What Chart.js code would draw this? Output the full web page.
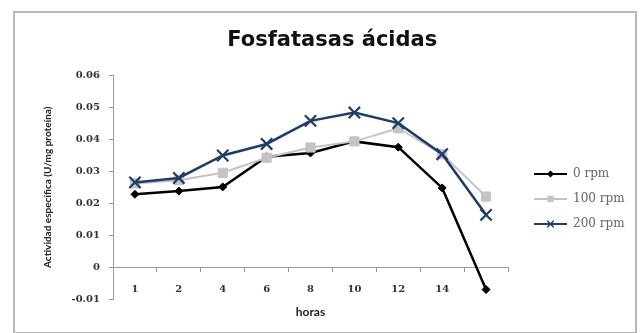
<!DOCTYPE html>
<html>
<head>
<meta charset="utf-8">
<script src="https://cdn.jsdelivr.net/npm/chart.js@4"></script>
<style>
  html, body { margin: 0; padding: 0; background: #fff; }
  #wrap { width: 644px; height: 333px; position: relative; }
</style>
</head>
<body>
<div id="wrap"><canvas id="c" width="644" height="333"></canvas></div>
<script>
// Hours of sampling (last sample is left unlabeled on the axis)
const horas = ['1', '2', '4', '6', '8', '10', '12', '14', ''];

// Specific activity (U/mg protein) per agitation speed
const rpm0   = [0.0228, 0.0238, 0.0251, 0.0345, 0.0357, 0.0393, 0.0375, 0.0248, -0.0069];
const rpm100 = [0.0262, 0.0272, 0.0295, 0.0342, 0.0374, 0.0393, 0.0434, 0.0353, 0.0221];
const rpm200 = [0.0265, 0.0279, 0.0349, 0.0385, 0.0457, 0.0483, 0.0450, 0.0353, 0.0164];

const seriesNames = ['0 rpm', '100 rpm', '200 rpm'];

// Y axis range and step
const yMin = -0.01, yMax = 0.06, yStep = 0.01;

const styles = [
  { color: '#000000', point: 'rectRot', radius: 4, width: 2.5, legendRadius: 2.5 },
  { color: '#c4c4c4', point: 'rect', radius: 6.5, width: 2, legendRadius: 3.5 },
  { color: '#1f3d66', point: 'crossRot', radius: 8, width: 2.5, legendRadius: 4.5 }
];

const plotRight = 508;
const legendFont = { family: 'DejaVu Serif', size: 12 };
const legendPad = 13;
const legendBoxW = 46;

// Legend swatch: a short line with the series marker in the middle
function makeSwatch(st) {
  const cv = document.createElement('canvas');
  cv.width = legendBoxW; cv.height = 12;
  const g = cv.getContext('2d');
  g.strokeStyle = st.color; g.lineWidth = 2;
  g.beginPath(); g.moveTo(13, 6); g.lineTo(legendBoxW, 6); g.stroke();
  g.fillStyle = st.color; g.strokeStyle = st.color; g.lineWidth = 1.5;
  Chart.helpers.drawPoint(g, { pointStyle: st.point, radius: st.legendRadius, borderWidth: 1.5 }, 29.5, 6);
  if (st.point !== 'crossRot') g.fill();
  return cv;
}

// Width taken by the legend, so the plot ends at the same spot
const mctx = document.createElement('canvas').getContext('2d');
mctx.font = legendFont.size + 'px "' + legendFont.family + '"';
const maxText = Math.max(...seriesNames.map(s => mctx.measureText(s).width));
const legendWidth = legendPad + legendBoxW + legendFont.size / 2 + maxText + 10;
const padRight = 644 - plotRight - legendWidth;

const frame = {
  id: 'frame',
  beforeDraw(chart) {
    const ctx = chart.ctx;
    ctx.save();
    ctx.fillStyle = '#ffffff';
    ctx.fillRect(0, 0, chart.width, chart.height);
    ctx.strokeStyle = '#b8b8b8';
    ctx.lineWidth = 2;
    ctx.strokeRect(14, 12, 622, 321);
    ctx.restore();
  }
};

const dataSets = [rpm0, rpm100, rpm200].map((vals, i) => ({
  label: seriesNames[i],
  data: vals,
  borderColor: styles[i].color,
  backgroundColor: styles[i].color,
  borderWidth: styles[i].width,
  pointStyle: styles[i].point,
  pointRadius: styles[i].radius,
  pointBorderWidth: i === 2 ? 2.2 : 1,
  pointBackgroundColor: styles[i].color,
  pointBorderColor: styles[i].color,
  tension: 0,
  order: 3 - i
}));

const swatches = styles.map(makeSwatch);

new Chart(document.getElementById('c'), {
  type: 'line',
  data: { labels: horas, datasets: dataSets },
  plugins: [frame],
  options: {
    responsive: false,
    animation: false,
    devicePixelRatio: 1,
    layout: { padding: { left: 30, right: padRight, top: 12, bottom: 33.5 } },
    plugins: {
      title: {
        display: true,
        text: 'Fosfatasas ácidas',
        color: '#111',
        font: { family: 'DejaVu Sans', size: 21, weight: 'bold' },
        padding: { top: 16, bottom: 21.8 }
      },
      legend: {
        position: 'right',
        fullSize: false,
        title: { display: true, text: '', font: { size: 10 }, padding: { top: 11.5, bottom: 0 } },
        labels: {
          usePointStyle: true,
          pointStyleWidth: legendBoxW,
          padding: legendPad,
          color: '#333',
          font: legendFont,
          generateLabels(chart) {
            return chart.data.datasets.map((ds, i) => ({
              text: ds.label,
              pointStyle: swatches[i],
              fillStyle: ds.borderColor,
              strokeStyle: ds.borderColor,
              lineWidth: 0,
              datasetIndex: i,
              hidden: false
            }));
          }
        }
      },
      tooltip: { enabled: false }
    },
    scales: {
      x: {
        position: { y: 0 },
        offset: true,
        border: { color: '#9a9a9a', width: 1 },
        grid: { display: true, drawOnChartArea: false, drawTicks: true, tickLength: 4, offset: true, color: '#9a9a9a' },
        ticks: {
          color: '#333',
          padding: 11.6,
          maxRotation: 0,
          autoSkip: false,
          font: { family: 'DejaVu Serif', size: 10, weight: 'bold' }
        },
        title: {
          display: true,
          text: 'horas',
          color: '#222',
          font: { family: 'Lato', size: 12, weight: 'bold' },
          padding: { top: -2, bottom: 0 }
        }
      },
      y: {
        min: yMin,
        max: yMax,
        afterFit(scale) { scale.width = 83; },
        border: { color: '#9a9a9a', width: 1 },
        grid: { display: true, drawOnChartArea: false, drawTicks: true, tickLength: 4, color: '#9a9a9a' },
        ticks: {
          stepSize: yStep,
          padding: 9,
          color: '#333',
          font: { family: 'DejaVu Serif', size: 10, weight: 'bold' },
          callback: v => String(+v.toFixed(2))
        },
        title: {
          display: true,
          text: 'Actividad específica (U/mg proteína)',
          color: '#222',
          font: { family: 'Lato', size: 10, weight: 'bold' },
          padding: { top: 12, bottom: 0 }
        }
      }
    }
  }
});
</script>
</body>
</html>
